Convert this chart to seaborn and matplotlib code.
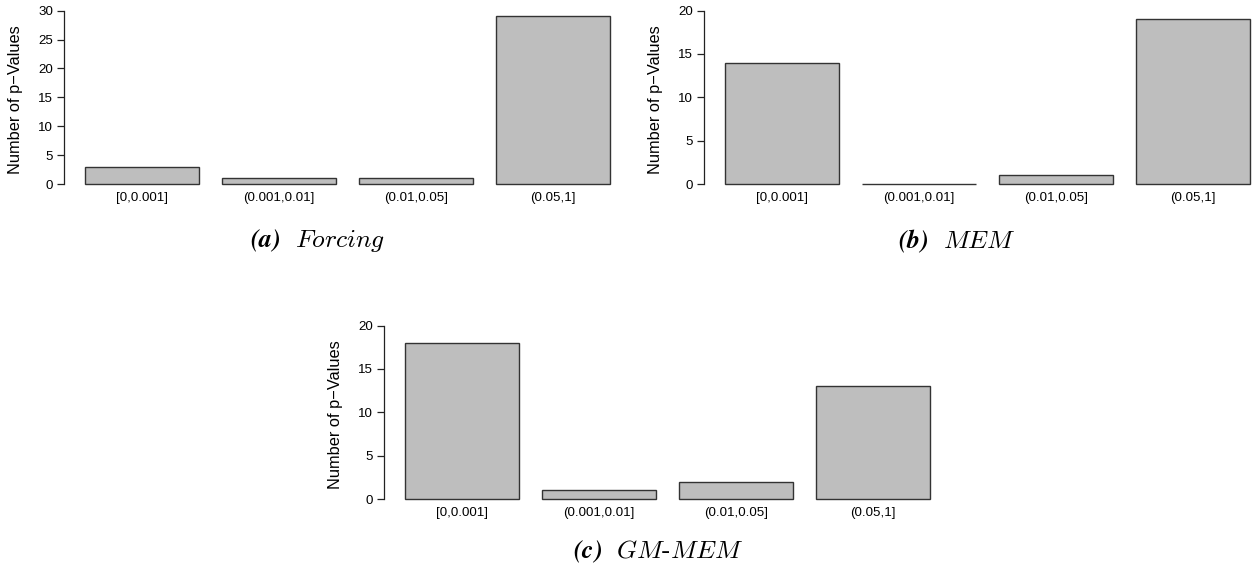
import matplotlib
matplotlib.use("Agg")
import matplotlib.pyplot as plt
import pandas as pd
import seaborn as sns

bins = ["[0,0.001]", "(0.001,0.01]", "(0.01,0.05]", "(0.05,1]"]
forcing = [3, 1, 1, 29]
mem = [14, 0, 1, 19]
gm_mem = [18, 1, 2, 13]

W, H = 1253, 575
sns.set_theme(style="white")
plt.rcParams["font.family"] = ["Liberation Sans", "DejaVu Sans"]
plt.rcParams["mathtext.fontset"] = "cm"
plt.rcParams["text.color"] = "black"

fig = plt.figure(figsize=(W / 100, H / 100), dpi=100)


def px_axes(left, right, top, bottom):
    return fig.add_axes([left / W, 1 - bottom / H, (right - left) / W, (bottom - top) / H])


def draw_panel(ax, counts, ymax, xlim):
    df = pd.DataFrame({"bin": bins, "count": counts})
    sns.barplot(data=df, x="bin", y="count", ax=ax, color="#BEBEBE",
                edgecolor="#333333", linewidth=1.0, width=0.833, saturation=1)
    ax.set_xlim(*xlim)
    ax.set_ylim(-0.04 * ymax, ymax * 1.015)
    ax.set_yticks(range(0, ymax + 1, 5))
    ax.spines[["top", "right", "bottom"]].set_visible(False)
    ax.spines["left"].set_bounds(0, ymax)
    ax.spines["left"].set_color("#222222")
    ax.spines["left"].set_linewidth(0.9)
    ax.tick_params(axis="y", left=True, length=5, width=0.9, color="#222222",
                   labelsize=9.6, pad=3, labelcolor="black")
    ax.tick_params(axis="x", bottom=False, length=0, labelsize=9.6, pad=0.5,
                   labelcolor="black")
    ax.set_xlabel("")
    ax.set_ylabel("Number of p\u2212Values", fontsize=11.8, labelpad=11, color="black")


# (a) Forcing
ax_a = px_axes(64, 631, 8, 191)
draw_panel(ax_a, forcing, 30, (-0.569, 3.569))

# (b) MEM
ax_b = px_axes(704, 1253, 8, 191)
draw_panel(ax_b, mem, 20, (-0.569, 3.438))

# (c) GM-MEM
ax_c = px_axes(384, 951, 323, 506)
draw_panel(ax_c, gm_mem, 20, (-0.569, 3.569))

cap = dict(ha="center", va="center", fontsize=18.5, color="black")
fig.text(318 / W, 1 - 241 / H, r"$\mathbfit{(a)}\ \ \mathit{Forcing}$", **cap)
fig.text(957 / W, 1 - 241 / H, r"$\mathbfit{(b)}\ \ \mathit{MEM}$", **cap)
fig.text(658 / W, 1 - 552 / H, r"$\mathbfit{(c)}\ \ \mathit{GM\text{-}MEM}$", **cap)

fig.savefig("out.png", dpi=100)
